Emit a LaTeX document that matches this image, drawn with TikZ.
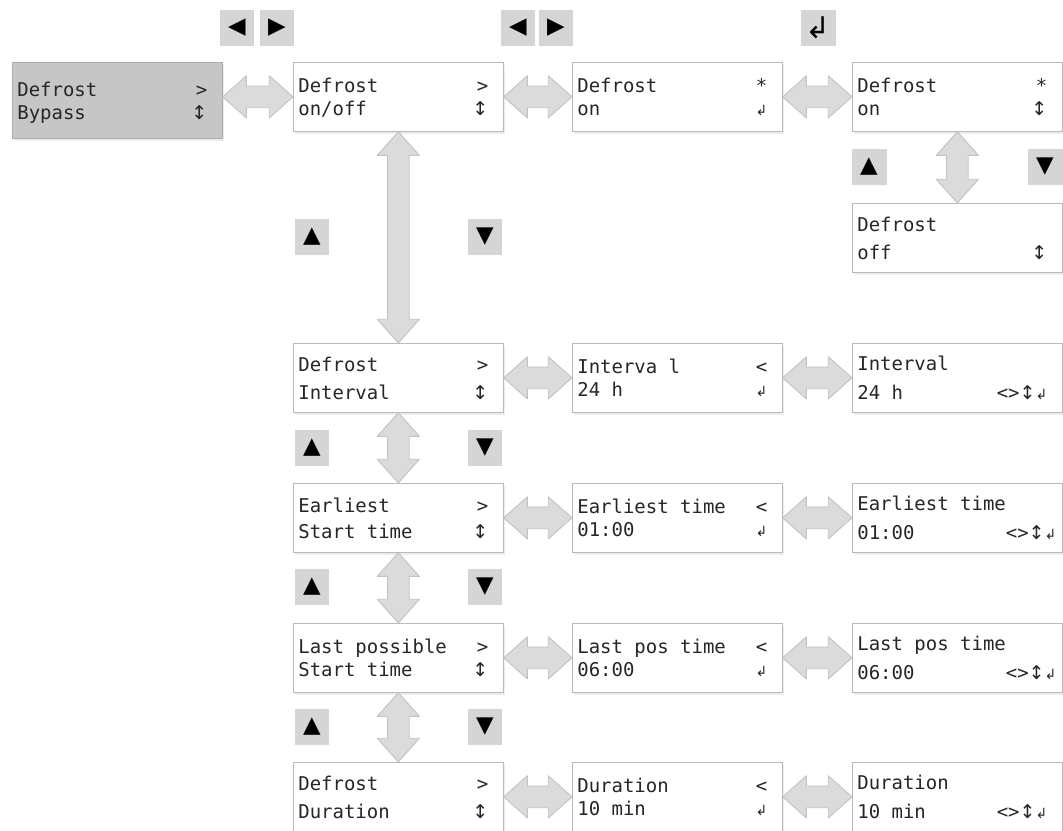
\documentclass[tikz,border=0pt]{standalone}
\usepackage{fontspec}
\usetikzlibrary{calc, shadows}
\newfontfamily\lcdfont{DejaVu Sans Mono}
\newfontfamily\symfont{DejaVu Sans}

% display symbols
\newcommand{\ud}{{\symfont ↕}}
\newcommand{\ent}{{\symfont\fontsize{8}{8}\selectfont ↲}}
% two display lines, text left and symbol right
\newcommand{\lcd}[5][0pt]{\raisebox{-1.7pt}[\height][\depth]{\begin{tabular*}{3.8cm}{@{}l@{\extracolsep{\fill}}r@{}}#2 & #3\\[#1]#4 & #5\end{tabular*}}\hspace*{0.2cm}}

\tikzstyle{menubox} = [rectangle, 
draw=gray!55, 
fill=white, 
minimum width=4.2cm, 
minimum height=1.38cm, 
inner sep=0pt, 
anchor=north west,
text=black!85,
font=\lcdfont\fontsize{10.8}{13}\selectfont,
drop shadow={opacity=0.15, shadow xshift=1pt, shadow yshift=-1.5pt}]
\tikzstyle{bypassbox} = [menubox, fill=gray!45, draw=gray!65, minimum height=1.52cm]
\tikzstyle{key} = [rectangle, 
fill=gray!33, 
minimum width=0.7cm, 
minimum height=0.72cm, 
inner sep=0pt, 
font=\symfont\fontsize{13}{13}\selectfont]
\tikzstyle{navarrow} = [fill=gray!28, draw=gray!48, line width=0.5pt, line join=round]

% fat double arrows between two boxes
\def\headlen{13.5pt}
\def\headhalf{12pt}
\def\shafthalf{6.2pt}
\newcommand{\hnav}[2]{%
\draw [navarrow] let \p1=(#1.east), \p2=(#2.west) in
  (\x1,\y2) -- (\x1+\headlen,\y2+\headhalf) -- (\x1+\headlen,\y2+\shafthalf)
  -- (\x2-\headlen,\y2+\shafthalf) -- (\x2-\headlen,\y2+\headhalf) -- (\x2,\y2)
  -- (\x2-\headlen,\y2-\headhalf) -- (\x2-\headlen,\y2-\shafthalf)
  -- (\x1+\headlen,\y2-\shafthalf) -- (\x1+\headlen,\y2-\headhalf) -- cycle;}
\newcommand{\vnav}[2]{%
\draw [navarrow] let \p1=(#1.south), \p2=(#2.north) in
  (\x1,\y1) -- (\x1+\headhalf,\y1-\headlen) -- (\x1+\shafthalf,\y1-\headlen)
  -- (\x1+\shafthalf,\y2+\headlen) -- (\x1+\headhalf,\y2+\headlen) -- (\x1,\y2)
  -- (\x1-\headhalf,\y2+\headlen) -- (\x1-\shafthalf,\y2+\headlen)
  -- (\x1-\shafthalf,\y1-\headlen) -- (\x1-\headhalf,\y1-\headlen) -- cycle;}

\begin{document}
\begin{tikzpicture}[x=0.02cm, y=-0.02cm]
\useasboundingbox (0,0) rectangle (1063,831);

% keys
\node (left1) [key] at (237,28) {◀};
\node (right1) [key] at (277,28) {▶};
\node (left2) [key] at (518,28) {◀};
\node (right2) [key] at (556,28) {▶};
\node (enter) [key, font=\symfont\fontsize{17}{17}\selectfont] at (818,28) {↲};
\node (upon) [key] at (869,167) {▲};
\node (downon) [key] at (1045,167) {▼};
\node (up0) [key] at (312,237) {▲};
\node (down0) [key] at (485,237) {▼};
\node (up1) [key] at (312,448) {▲};
\node (down1) [key] at (485,448) {▼};
\node (up2) [key] at (312,587) {▲};
\node (down2) [key] at (485,587) {▼};
\node (up3) [key] at (312,727) {▲};
\node (down3) [key] at (485,727) {▼};

% menu
\node (bypass) [bypassbox] at (12,62) {\lcd{Defrost}{>}{Bypass}{\ud}};
\node (onoff) [menubox] at (293,62) {\lcd{Defrost}{>}{on/off}{\ud}};
\node (seton) [menubox] at (572,62) {\lcd{Defrost}{*}{on}{\ent}};
\node (ison) [menubox] at (852,62) {\lcd{Defrost}{*}{on}{\ud}};
\node (isoff) [menubox] at (852,203) {\lcd[3pt]{Defrost}{}{off}{\ud}};

\node (interval) [menubox] at (293,343) {\lcd[3pt]{Defrost}{>}{Interval}{\ud}};
\node (ivset) [menubox] at (572,343) {\lcd{Interva l}{<}{24 h}{\ent}};
\node (ivedit) [menubox] at (852,343) {\lcd[3.5pt]{Interval}{}{24 h}{<>\ud\ent}};

\node (earliest) [menubox] at (293,483) {\lcd[1.5pt]{Earliest}{>}{Start time}{\ud}};
\node (easet) [menubox] at (572,483) {\lcd{Earliest time}{<}{01:00}{\ent}};
\node (eaedit) [menubox] at (852,483) {\lcd[3.5pt]{Earliest time}{}{01:00}{<>\ud\ent}};

\node (latest) [menubox] at (293,623) {\lcd{Last possible}{>}{Start time}{\ud}};
\node (laset) [menubox] at (572,623) {\lcd{Last pos time}{<}{06:00}{\ent}};
\node (laedit) [menubox] at (852,623) {\lcd[3.5pt]{Last pos time}{}{06:00}{<>\ud\ent}};

\node (duration) [menubox] at (293,762) {\lcd[3pt]{Defrost}{>}{Duration}{\ud}};
\node (duset) [menubox] at (572,762) {\lcd{Duration}{<}{10 min}{\ent}};
\node (duedit) [menubox] at (852,762) {\lcd[3.5pt]{Duration}{}{10 min}{<>\ud\ent}};

% navigation
\hnav{bypass}{onoff}
\hnav{onoff}{seton}
\hnav{seton}{ison}
\vnav{ison}{isoff}
\vnav{onoff}{interval}
\hnav{interval}{ivset}
\hnav{ivset}{ivedit}
\vnav{interval}{earliest}
\hnav{earliest}{easet}
\hnav{easet}{eaedit}
\vnav{earliest}{latest}
\hnav{latest}{laset}
\hnav{laset}{laedit}
\vnav{latest}{duration}
\hnav{duration}{duset}
\hnav{duset}{duedit}
\end{tikzpicture}
\end{document}
